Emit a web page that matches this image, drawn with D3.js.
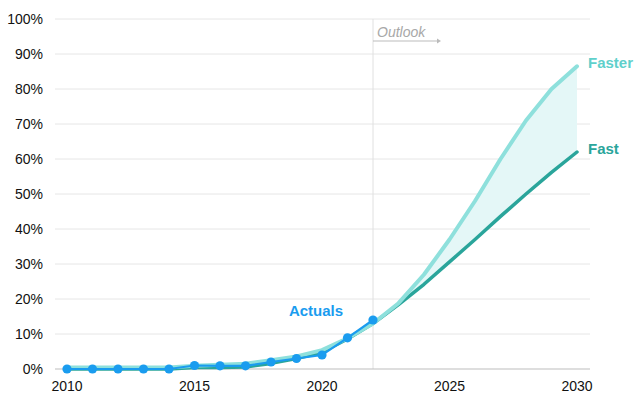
<!DOCTYPE html>
<html>
<head>
<meta charset="utf-8">
<script src="https://cdn.jsdelivr.net/npm/d3@7"></script>
<style>
html,body{margin:0;padding:0;background:#fff;}
svg{display:block;font-family:"Liberation Sans",Arial,sans-serif;}
</style>
</head>
<body>
<svg id="chart" width="640" height="399"></svg>
<script>
const years = [2010,2011,2012,2013,2014,2015,2016,2017,2018,2019,2020,2021,2022,2023,2024,2025,2026,2027,2028,2029,2030];
const actualYears = [2010,2011,2012,2013,2014,2015,2016,2017,2018,2019,2020,2021,2022];
const actuals = [0,0,0,0,0,1,0.9,0.9,2,3,4,8.9,14];
const faster = [0.4,0.4,0.4,0.4,0.4,0.9,1.2,1.5,2.5,3.6,5.4,8.8,13,18.8,27,37,48,60,71,80,86.5];
const fast   = [0,0,0,0,0,0.4,0.4,0.6,1.6,3,4.8,8.6,13,18.4,24.2,30.6,37,43.6,50,56.2,62];
const yTicks = [0,10,20,30,40,50,60,70,80,90,100];
const xTicks = [2010,2015,2020,2025,2030];
const bandStart = 2022;
const outlookYear = 2022;

const svg = d3.select("#chart");
const x = d3.scaleLinear().domain([2010,2030]).range([67,577]);
const y = d3.scaleLinear().domain([0,100]).range([369,19]);

svg.append("g").selectAll("line").data(yTicks.filter(d=>d>0)).join("line")
  .attr("x1",55).attr("x2",590)
  .attr("y1",d=>y(d)).attr("y2",d=>y(d))
  .attr("stroke","#e6e6e6").attr("stroke-width",1);

svg.append("g").selectAll("text").data(yTicks).join("text")
  .attr("x",43).attr("y",d=>y(d)+5)
  .attr("text-anchor","end").attr("font-size",14).attr("fill","#111")
  .text(d=>d+"%");

svg.append("line")
  .attr("x1",x(outlookYear)).attr("x2",x(outlookYear))
  .attr("y1",y(100)).attr("y2",y(0))
  .attr("stroke","#e0e0e0").attr("stroke-width",1);

svg.append("line").attr("x1",55).attr("x2",590).attr("y1",y(0)).attr("y2",y(0))
  .attr("stroke","#bdbdbd").attr("stroke-width",1.2);

svg.append("g").selectAll("text").data(xTicks).join("text")
  .attr("x",d=>x(d)).attr("y",391)
  .attr("text-anchor","middle").attr("font-size",14).attr("fill","#111")
  .text(d=>d);

const band = years.map((yr,i)=>({yr,hi:faster[i],lo:fast[i]})).filter(d=>d.yr>=bandStart);
svg.append("path").datum(band)
  .attr("d",d3.area().x(d=>x(d.yr)).y0(d=>y(d.lo)).y1(d=>y(d.hi)))
  .attr("fill","#e4f7f7");

const line = d3.line().x(d=>x(d[0])).y(d=>y(d[1]));
svg.append("path").datum(years.map((yr,i)=>[yr,fast[i]]))
  .attr("d",line).attr("fill","none").attr("stroke","#2aa59b").attr("stroke-width",3.5)
  .attr("stroke-linejoin","round").attr("stroke-linecap","round");
svg.append("path").datum(years.map((yr,i)=>[yr,faster[i]]))
  .attr("d",line).attr("fill","none").attr("stroke","#8ee0dc").attr("stroke-width",4)
  .attr("stroke-linejoin","round").attr("stroke-linecap","round");

const act = actualYears.map((yr,i)=>[yr,actuals[i]]);
svg.append("path").datum(act).attr("d",line)
  .attr("fill","none").attr("stroke","#1a9cef").attr("stroke-width",2.2);
svg.append("g").selectAll("circle").data(act).join("circle")
  .attr("cx",d=>x(d[0])).attr("cy",d=>y(d[1])).attr("r",4.6).attr("fill","#1a9cef");

svg.append("text").attr("x",316).attr("y",316).attr("text-anchor","middle")
  .attr("font-size",15).attr("font-weight","bold").attr("fill","#1a9cef").text("Actuals");
svg.append("text").attr("x",588).attr("y",68)
  .attr("font-size",15).attr("font-weight","bold").attr("fill","#5fd0cb").text("Faster");
svg.append("text").attr("x",588).attr("y",154)
  .attr("font-size",15).attr("font-weight","bold").attr("fill","#2aa59b").text("Fast");

svg.append("text").attr("x",377).attr("y",37).attr("font-size",14).attr("font-style","italic")
  .attr("fill","#a8a8a8").text("Outlook");
svg.append("line").attr("x1",x(outlookYear)).attr("x2",437).attr("y1",41).attr("y2",41)
  .attr("stroke","#bbbbbb").attr("stroke-width",1);
svg.append("path").attr("d","M437,38.5 L441,41 L437,43.5 Z").attr("fill","#bbbbbb");
</script>
</body>
</html>
